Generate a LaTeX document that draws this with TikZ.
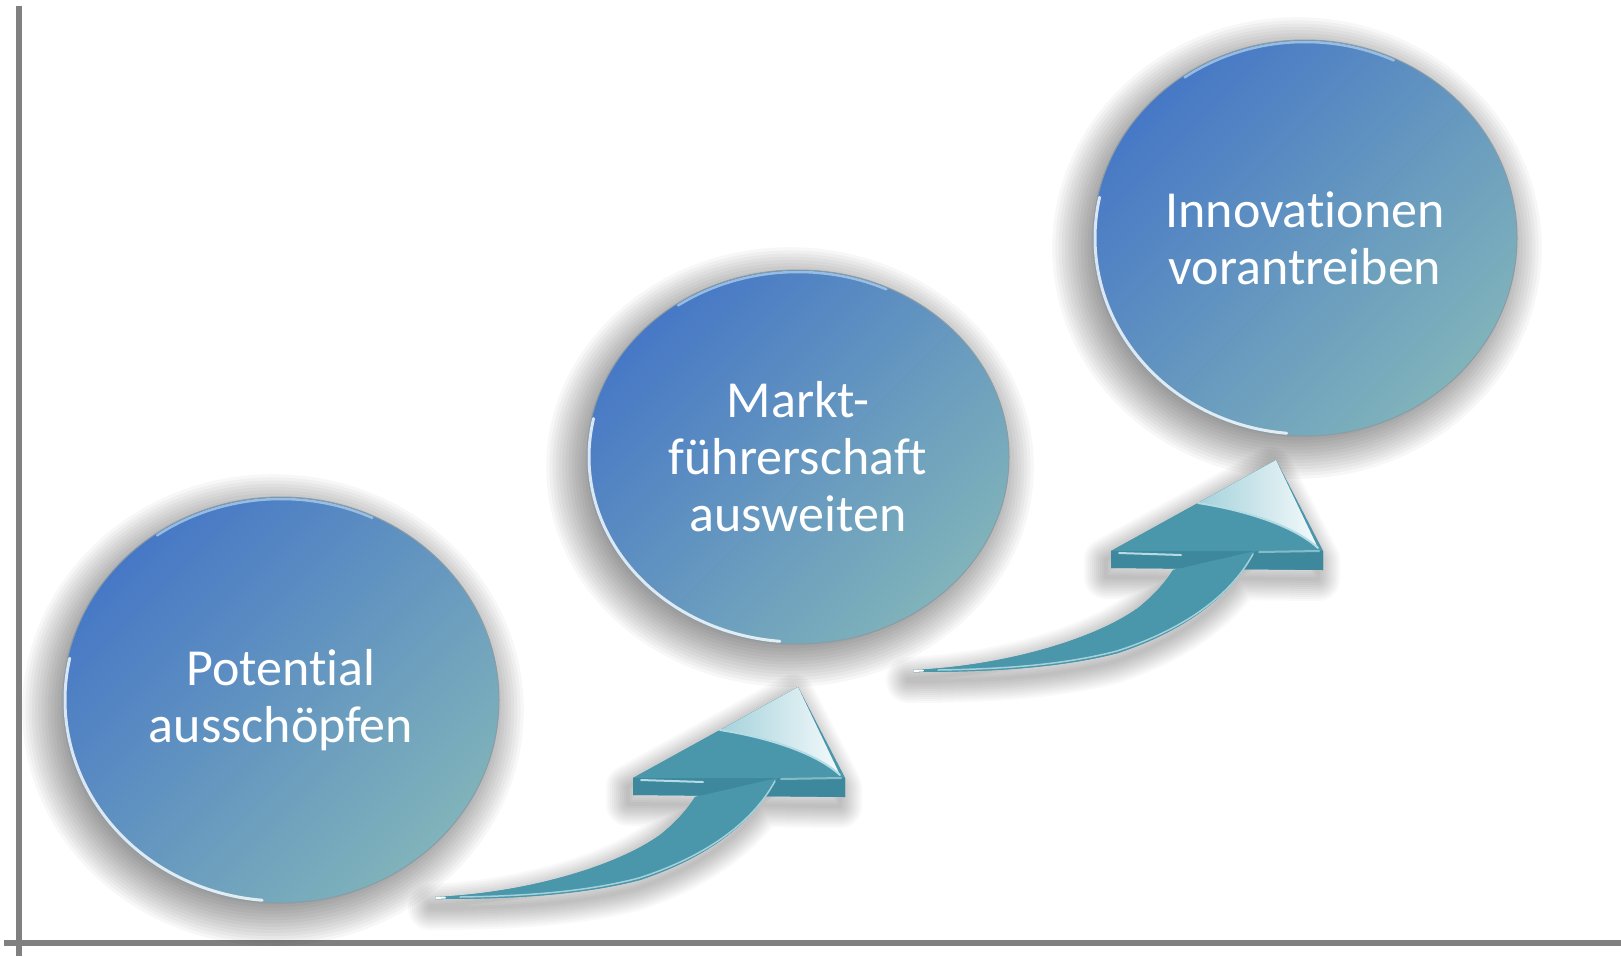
\documentclass[tikz,border=0pt]{standalone}
\usepackage{fontspec}
\setmainfont{Carlito}[Ligatures=NoCommon]
\usetikzlibrary{shapes.geometric}
\definecolor{axisgray}{HTML}{808080}
\definecolor{balltop}{HTML}{4778C6}
\definecolor{ballbot}{HTML}{80B3BA}
\definecolor{arrowteal}{HTML}{4A96AB}
\definecolor{arrowdark}{HTML}{3E889D}
\definecolor{arrowlight}{HTML}{B5DCE4}
\definecolor{rimgray}{HTML}{8A9CA6}
\definecolor{rimblue}{HTML}{A9CDEB}
\newcommand\ballshadow[4]{%
  \foreach \k in {1,...,14}{%
    \fill[black, opacity=0.03] (#1-8,#2+10) ellipse [x radius=#3-12+3.2*\k, y radius=#4-12+3.2*\k];}}
\newcommand\arrowoutline{(0,0) .. controls (90,-4) and (180,-30) .. (225,-62) .. controls (245,-78) and (255,-92) .. (260,-100)
      -- (342,-119) .. controls (322,-80) and (280,-42) .. (205,-17) .. controls (140,0) and (60,2) .. (0,2) -- cycle
      (198,-102) -- (198,-119) -- (363,-210) -- (410,-119) -- (410,-100) -- cycle}
\tikzset{
  ball/.style={ellipse, inner sep=0pt, align=center, text=white,
    font=\fontsize{52}{57}\selectfont,
    top color=balltop, bottom color=ballbot, shading angle=45,
    draw=rimgray, line width=1pt},
  rim/.style={white, line width=3pt, opacity=0.8, line cap=round},
  rimtop/.style={rimblue, line width=2.5pt, opacity=0.8, line cap=round},
  axisline/.style={axisgray, line width=6pt},
  hl/.style={arrowlight, line width=2pt, line cap=round},
  arrowshadow/.pic={
    \foreach \w in {4,8,...,44}{
      \draw[black, opacity=0.025, line width=\w pt, line join=round, shift={(-5,9)}] \arrowoutline;}
  },
  uparrow/.pic={
    \fill[arrowteal] \arrowoutline;
    % plate front face
    \fill[arrowdark] (198,-119) -- (410,-119) -- (410,-100) -- (198,-102) -- cycle;
    % head top face
    \fill[arrowteal] (198,-119) -- (363,-210) -- (410,-119) -- cycle;
    % glossy part of the head
    \shade[left color=arrowlight!85!arrowteal, right color=white!85!arrowlight]
      (363,-210) -- (285,-167) .. controls (330,-160) and (380,-145) .. (405,-122) -- cycle;
    \draw[hl] (285,-167) .. controls (330,-160) and (380,-145) .. (405,-122);
    % shaft
    \fill[arrowteal]
      (0,0) .. controls (90,-4) and (180,-30) .. (225,-62) .. controls (245,-78) and (255,-92) .. (260,-100)
      -- (342,-119) .. controls (322,-80) and (280,-42) .. (205,-17) .. controls (140,0) and (60,2) .. (0,2) -- cycle;
    % highlights
    \draw[hl, line width=1.5pt, opacity=0.85] (340,-116) .. controls (320,-79) and (278,-43) .. (204,-19) .. controls (150,-5) and (90,-1) .. (25,0);
    \draw[hl] (206,-117) -- (268,-115);
    \draw[hl, opacity=0.6] (346,-118) -- (406,-119);
    \draw[white, line width=2pt, line cap=round] (1,1) -- (10,0.5);
  }
}
\begin{document}
\begin{tikzpicture}[x=1pt,y=-1pt]
  \useasboundingbox (0,0) rectangle (1621,956);
  \fill[white] (0,0) rectangle (1621,956);

  % axes
  \coordinate (ytop) at (19,6);
  \coordinate (ybot) at (19,956);
  \coordinate (xleft) at (4,943);
  \coordinate (xright) at (1621,943);
  \draw[axisline] (ybot) -- (ytop);
  \draw[axisline] (xleft) -- (xright);

  % soft shadows
  \ballshadow{281}{700}{218}{203}
  \ballshadow{798}{457}{211}{187}
  \ballshadow{1305}{238}{212}{198}
  \pic at (435,897) {arrowshadow};
  \pic at (913,670) {arrowshadow};

  % arrows
  \pic (arrA) at (435,897) {uparrow};
  \pic (arrB) at (913,670) {uparrow};

  % balls
  \node[ball, minimum width=436pt, minimum height=406pt] (pot) at (281,700) {Potential\\ausschöpfen};
  \node[ball, minimum width=422pt, minimum height=374pt] (markt) at (798,457) {Markt-\\führerschaft\\ausweiten};
  \node[ball, minimum width=424pt, minimum height=396pt] (innov) at (1305,238) {Innovationen\\vorantreiben};

  % rim highlights
  \draw[rim] (pot.center) ++(192:216 and 201) arc[start angle=192, end angle=95, x radius=216, y radius=201];
  \draw[rimtop] (pot.center) ++(235:216 and 201) arc[start angle=235, end angle=295, x radius=216, y radius=201];
  \draw[rim] (markt.center) ++(192:209 and 185) arc[start angle=192, end angle=95, x radius=209, y radius=185];
  \draw[rimtop] (markt.center) ++(235:209 and 185) arc[start angle=235, end angle=295, x radius=209, y radius=185];
  \draw[rim] (innov.center) ++(192:210 and 196) arc[start angle=192, end angle=95, x radius=210, y radius=196];
  \draw[rimtop] (innov.center) ++(235:210 and 196) arc[start angle=235, end angle=295, x radius=210, y radius=196];
\end{tikzpicture}
\end{document}
